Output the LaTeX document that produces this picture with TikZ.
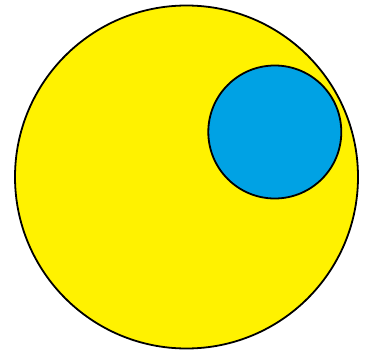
\documentclass[tikz,border=0pt]{standalone}
\begin{document}
\definecolor{sunyellow}{RGB}{255,242,0}
\definecolor{skyblue}{RGB}{0,162,228}
\begin{tikzpicture}[x=1pt,y=-1pt,
  disc/.style={draw=black,line width=1.8pt}]
\useasboundingbox (0,0) rectangle (366,353);
\fill[white] (0,0) rectangle (366,353);
\node[disc,circle,fill=sunyellow,minimum size=343pt,inner sep=0pt] (big) at (186.5,177) {};
\node[disc,circle,fill=skyblue,minimum size=133pt,inner sep=0pt] (small) at (274.8,132) {};
\end{tikzpicture}
\end{document}
